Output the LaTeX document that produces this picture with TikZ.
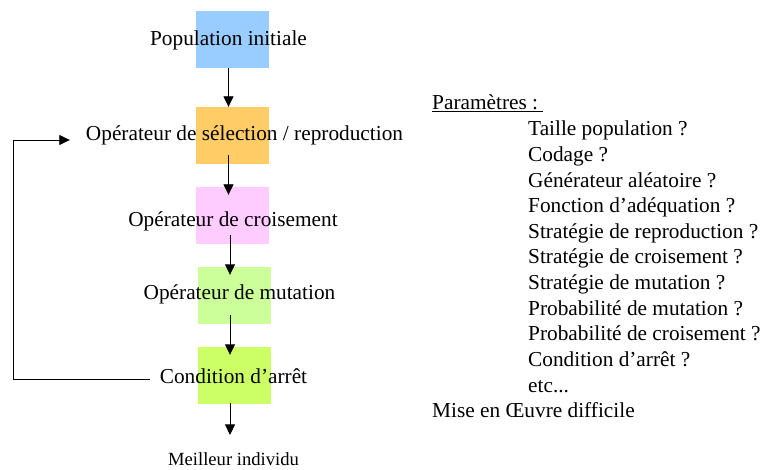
\documentclass[tikz,border=0pt]{standalone}
\usepackage{fontspec}
\setmainfont{Liberation Serif}
\usetikzlibrary{arrows.meta}
\definecolor{popblue}{HTML}{99CCFF}
\definecolor{selorange}{HTML}{FFCC66}
\definecolor{crospink}{HTML}{FFCCFF}
\definecolor{mutgreen}{HTML}{CCFF99}
\definecolor{stopgreen}{HTML}{CCFF66}
\begin{document}
\begin{tikzpicture}[x=1pt,y=-1pt,
  colbox/.style={draw=none,minimum width=73pt,minimum height=57pt,inner sep=0pt},
  label/.style={inner sep=0pt,anchor=base,font=\fontsize{21.3}{25.6}\selectfont},
  small/.style={inner sep=0pt,anchor=base,font=\fontsize{18.6}{22}\selectfont},
  param/.style={inner sep=0pt,anchor=base west,font=\fontsize{21.3}{25.6}\selectfont},
  flow/.style={line width=0.9pt,-{Triangle[length=10.5pt,width=10pt]}},
  loopline/.style={line width=0.9pt,-{Triangle[length=10.5pt,width=10pt]}}]
\useasboundingbox (0,0) rectangle (765,470);

% coloured blocks of the algorithm
\node[colbox,fill=popblue]   (b1) at (232.5,39.5)  {};
\node[colbox,fill=selorange] (b2) at (232.5,135.5) {};
\node[colbox,fill=crospink]  (b3) at (232.5,215.5) {};
\node[colbox,fill=mutgreen]  (b4) at (234.5,295.5) {};
\node[colbox,fill=stopgreen] (b5) at (234.5,375.5) {};

% step labels
\node[label] (pop)  at (228.5,46)  {Population initiale};
\node[label] (sel)  at (244.5,141) {Opérateur de sélection / reproduction};
\node[label] (cro)  at (233,227)   {Opérateur de croisement};
\node[label] (mut)  at (239.5,299) {Opérateur de mutation};
\node[label] (cond) at (233.5,383) {Condition d’arrêt};
\node[small] (best) at (233.5,465) {Meilleur individu};

% flow between the steps
\draw[flow] ([xshift=-4pt]b1.south) -- ([xshift=-4pt]b2.north);
\draw[flow,shorten <=-9pt,shorten >=-8pt] ([xshift=-4pt]b2.south) -- ([xshift=-4pt]b3.north);
\draw[flow,shorten <=-9pt,shorten >=-8pt] ([xshift=-2.5pt]b3.south) -- ([xshift=-4.5pt]b4.north);
\draw[flow,shorten <=-9pt,shorten >=-8pt] ([xshift=-4.5pt]b4.south) -- ([xshift=-4.5pt]b5.north);
\draw[flow,shorten <=-1pt] ([xshift=-4.5pt]b5.south) -- ([xshift=-3.5pt,yshift=17pt]best.north);

% loop back from the stop test to the selection step
\coordinate (fbStart) at ([shift={(-10pt,4pt)}]cond.base west);
\coordinate (fbEnd)   at ([shift={(-16pt,0pt)}]sel.base west);
\draw[loopline] (fbStart) -- ++(-136,0) |- (fbEnd |- 0,140);

% parameter list
\node[param] (ptitle) at (432,110) {\underline{Paramètres :\ }};
\node[param] (p1)  at (528,136)   {Taille population ?};
\node[param] (p2)  at (528,161.6) {Codage ?};
\node[param] (p3)  at (528,187.2) {Générateur aléatoire ?};
\node[param] (p4)  at (528,212.8) {Fonction d’adéquation ?};
\node[param] (p5)  at (528,238.4) {Stratégie de reproduction ?};
\node[param] (p6)  at (528,264)   {Stratégie de croisement ?};
\node[param] (p7)  at (528,289.6) {Stratégie de mutation ?};
\node[param] (p8)  at (528,315.2) {Probabilité de mutation ?};
\node[param] (p9)  at (528,340.8) {Probabilité de croisement ?};
\node[param] (p10) at (528,366.4) {Condition d’arrêt ?};
\node[param] (p11) at (528,392)   {etc...};
\node[param] (mise) at (432,417.6) {Mise en Œuvre difficile};
\end{tikzpicture}
\end{document}
